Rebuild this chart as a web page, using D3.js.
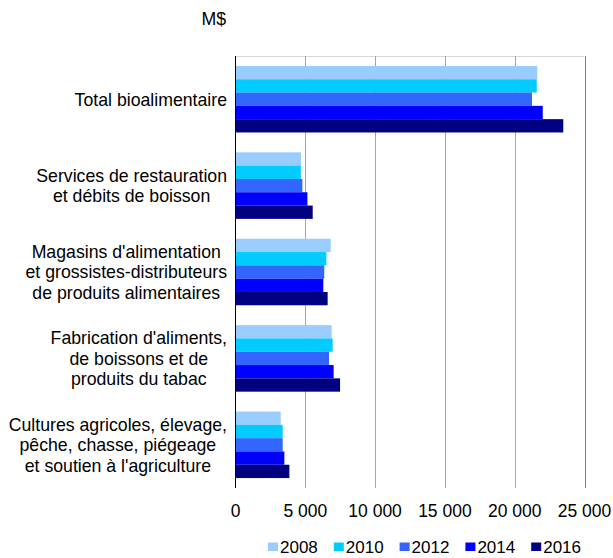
<!DOCTYPE html>
<html><head><meta charset="utf-8">
<script src="https://cdn.jsdelivr.net/npm/d3@7"></script>
<style>body{margin:0;background:#fff;}svg{display:block;font-family:"Liberation Sans",Arial,sans-serif;}</style>
</head><body><svg id="c" width="613" height="558"></svg>
<script>
const categories = [
  ["Total bioalimentaire"],
  ["Services de restauration", "et débits de boisson"],
  ["Magasins d'alimentation", "et grossistes-distributeurs", "de produits alimentaires"],
  ["Fabrication d'aliments,", "de boissons et de", "produits du tabac"],
  ["Cultures agricoles, élevage,", "pêche, chasse, piégeage", "et soutien à l'agriculture"]
];
const years = ["2008", "2010", "2012", "2014", "2016"];
const colors = ["#99CCFF", "#00CCFF", "#3366FF", "#0000FF", "#000080"];
const v2008 = [21620, 4690, 6820, 6890, 3240];
const v2010 = [21580, 4680, 6510, 6960, 3380];
const v2012 = [21240, 4790, 6360, 6700, 3380];
const v2014 = [22010, 5150, 6290, 7030, 3500];
const v2016 = [23480, 5530, 6600, 7490, 3860];
const series = [v2008, v2010, v2012, v2014, v2016];
const xTicks = [0, 5000, 10000, 15000, 20000, 25000];
const unitLabel = "M$";

const svg = d3.select("#c");
const pLeft = 235.5, pRight = 584.5, pTop = 56, pBottom = 488;
const x = d3.scaleLinear().domain([0, 25000]).range([pLeft, pRight]);
const y = d3.scaleBand().domain(d3.range(categories.length)).range([pTop, pBottom]).paddingInner(0.23).paddingOuter(0.115);
const yi = d3.scaleBand().domain(d3.range(years.length)).range([0, y.bandwidth()]);

// top border
svg.append("line").attr("x1", pLeft).attr("x2", pRight).attr("y1", pTop + 0.5).attr("y2", pTop + 0.5).attr("stroke", "#d9d9d9");
// gridlines
svg.append("g").selectAll("line").data(xTicks.slice(1)).join("line")
  .attr("x1", d => Math.round(x(d)) + 0.5).attr("x2", d => Math.round(x(d)) + 0.5)
  .attr("y1", pTop).attr("y2", pBottom)
  .attr("stroke", (d, i) => i === xTicks.length - 2 ? "#808080" : "#a6a6a6").attr("stroke-width", 1);

// bars
series.forEach((vals, si) => {
  svg.append("g").selectAll("rect").data(vals).join("rect")
    .attr("x", x(0))
    .attr("y", (d, i) => y(i) + yi(si))
    .attr("width", d => x(d) - x(0))
    .attr("height", yi.bandwidth())
    .attr("fill", colors[si]);
});

// left axis line
svg.append("line").attr("x1", Math.round(pLeft) - 0.5).attr("x2", Math.round(pLeft) - 0.5).attr("y1", pTop).attr("y2", pBottom).attr("stroke", "#000");

// x tick labels
const fmt = d => d3.format(",")(d).replace(/,/g, " ");
svg.append("g").selectAll("text").data(xTicks).join("text")
  .attr("x", d => x(d)).attr("y", 516.5).attr("text-anchor", "middle")
  .attr("font-size", 17.5).attr("fill", "#000")
  .text(fmt);

// category labels
categories.forEach((lines, i) => {
  const g = svg.append("g");
  const cy = y(i) + y.bandwidth() / 2;
  const lh = 20.6;
  const texts = g.selectAll("text").data(lines).join("text")
    .attr("y", (d, j) => cy + (j - (lines.length - 1) / 2) * lh + 6.4)
    .attr("font-size", 17.7).attr("fill", "#000").attr("text-anchor", "middle")
    .text(d => d);
  let maxW = 0;
  texts.each(function () { maxW = Math.max(maxW, this.getComputedTextLength()); });
  texts.attr("x", 227 - maxW / 2);
});

// unit label
svg.append("text").attr("x", 226).attr("y", 25).attr("text-anchor", "end").attr("font-size", 17.7).text(unitLabel);

// legend
const lg = svg.append("g").selectAll("g").data(years).join("g")
  .attr("transform", (d, i) => `translate(${268 + i * 65.8},0)`);
lg.append("rect").attr("x", 0).attr("y", 542.5).attr("width", 10).attr("height", 8.5).attr("fill", (d, i) => colors[i]);
lg.append("text").attr("x", 12).attr("y", 553.3).attr("font-size", 17).text(d => d);
</script></body></html>
